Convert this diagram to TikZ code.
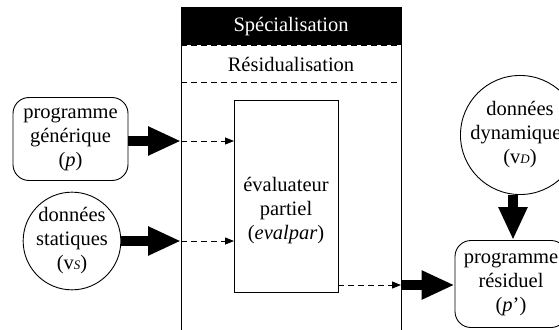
\documentclass[tikz,border=0pt]{standalone}
\usepackage{fontspec}
\setmainfont{Liberation Serif}
\newfontfamily\diagfont{Liberation Serif}
\usetikzlibrary{arrows.meta}
\begin{document}
\begin{tikzpicture}[x=1pt,y=-1pt,
  font=\diagfont\fontsize{20.5}{24}\selectfont,
  every node/.style={inner sep=0pt,align=center},
  roundbox/.style={draw,line width=0.9pt,rounded corners=16pt},
  datacircle/.style={draw,line width=0.9pt,circle,minimum size=96pt},
  bigarrow/.style={line width=10pt,-{Triangle[length=33pt,width=27pt]}},
  dasharrow/.style={line width=0.9pt,dash pattern=on 6pt off 4pt,-{Triangle[length=9pt,width=7pt]}},
  frameline/.style={line width=1pt}]
\useasboundingbox (0,0) rectangle (559,329);
% frame
\fill (181,7) rectangle (401,45);
\node[text=white] (spec) at (291,27) {Spécialisation};
\draw[frameline] (181,7) -- (181,335);
\draw[frameline] (401,7) -- (401,335);
\draw[line width=0.9pt,dash pattern=on 6pt off 4pt] (181,45) -- (401,45);
\draw[line width=0.9pt,dash pattern=on 6pt off 4pt] (181,82) -- (401,82);
\node (resid) at (291,64) {Résidualisation};
% evaluator
\draw[line width=0.9pt] (234,100) rectangle (338,292);
\node (evaltxt) at (286,211) {évaluateur\\partiel\\(\textit{evalpar})};
\coordinate (evalin1) at (234,141);
\coordinate (evalin2) at (234,241);
\coordinate (evalout) at (338,285);
\coordinate (fin1) at (181,141);
\coordinate (fin2) at (181,241);
\coordinate (fout) at (401,285);
% inputs
\node[roundbox,minimum width=115pt,minimum height=83pt] (prog) at (70.5,139) {programme\\générique\\(\textit{p})};
\node[datacircle] (stat) at (72,241) {données\\statiques\\(v\textit{\fontsize{13}{14}\selectfont S})};
\node[datacircle] (dyn) at (520,135) {données\\dynamiques\\(v\textit{\fontsize{13}{14}\selectfont D})};
\node[roundbox,minimum width=112pt,minimum height=87pt] (res) at (511,284) {programme\\résiduel\\(\textit{p}’)};
% arrows
\draw[bigarrow] (prog.east |- fin1) -- (fin1);
\draw[bigarrow] (stat.east |- fin2) -- (fin2);
\draw[dasharrow] (fin1) -- (evalin1);
\draw[dasharrow] (fin2) -- (evalin2);
\draw[dasharrow] (evalout) -- (fout);
\draw[bigarrow] (fout) -- (res.west |- fout);
\draw[bigarrow] (dyn.south -| 513,0) -- (res.north -| 513,0);
\end{tikzpicture}
\end{document}
